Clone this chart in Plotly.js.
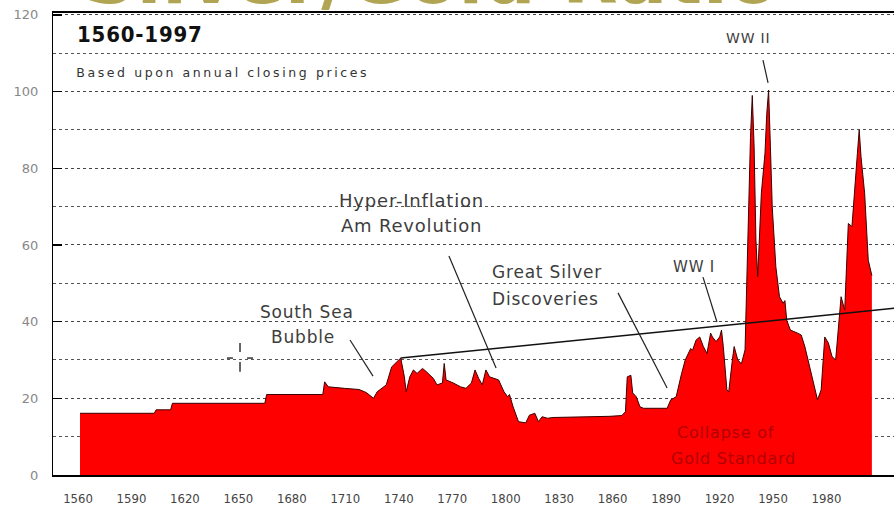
<!DOCTYPE html>
<html>
<head>
<meta charset="utf-8">
<script src="https://cdn.plot.ly/plotly-3.0.1.min.js"></script>
<style>
html,body{margin:0;padding:0;background:#fff;}
#chart{width:894px;height:511px;}
.annotation-text{letter-spacing:0.8px;}
g.annotation[data-index="2"] .annotation-text{letter-spacing:2.6px;}
</style>
</head>
<body>
<div id="chart"></div>
<script>
// Gold/Silver ratio, annual closing prices
const years = [1560,1601,1602,1610,1611,1662,1663,1694,1695,1697,1706,1714,1718,1722,1724,1729,1732,1735,1737,1739,1740,1742,1744,1746,1749,1751,1755,1757,1760,1761,1762,1766,1770,1773,1776,1778,1780,1782,1784,1786,1788,1791,1794,1796,1797,1799,1802,1806,1808,1811,1813,1815,1818,1821,1852,1859,1861,1862,1864,1865,1867,1869,1871,1884,1886,1889,1892,1894,1897,1898,1900,1902,1904,1906,1908,1909,1911,1913,1914,1915,1917,1918,1920,1921,1923,1925,1927,1928,1929,1930,1931,1932,1933,1934,1936,1938,1939,1940,1941,1942,1944,1946,1948,1949,1950,1952,1956,1958,1960,1963,1965,1967,1969,1971,1973,1975,1977,1978,1980,1982,1984,1986,1988,1989,1990,1991,1993,1995,1997];
const ratio = [16.1,16.1,17.0,17.0,18.7,18.7,21.0,21.0,24.3,23.0,22.6,22.3,21.5,20.0,21.7,23.5,28.2,29.6,30.5,25.6,21.7,25.6,27.4,26.5,27.8,27.0,25.2,23.5,24.0,29.1,24.8,24.0,23.0,22.6,24.0,27.4,25.2,23.5,27.4,25.6,25.2,24.8,21.7,20.4,21.0,17.8,13.9,13.6,15.6,16.1,13.9,15.2,14.8,15.0,15.3,15.5,16.5,25.6,26.0,21.4,20.4,17.8,17.4,17.4,19.6,20.4,26.5,30.0,33.0,32.5,35.2,36.0,33.5,31.7,37.0,36.0,34.8,36.0,37.8,33.5,22.2,21.7,30.0,33.5,30.0,29.0,32.6,50.0,72.0,88.0,99.0,85.6,61.3,51.7,73.5,83.9,94.3,100.4,85.6,70.0,54.3,46.5,44.8,45.5,40.4,37.8,37.0,36.5,33.5,27.4,23.9,19.6,22.2,36.0,34.4,30.9,30.0,35.2,46.5,43.0,65.6,64.8,76.0,83.9,90.0,83.0,73.5,56.0,52.0];

// trend line
const trendYears = [1737, 2012];
const trendValues = [30.5, 43.6];

// tick labels
const xTickYears = [1560,1590,1620,1650,1680,1710,1740,1770,1800,1830,1860,1890,1920,1950,1980];
const xTickText = xTickYears.map(String);
const yTickVals = [0,20,40,60,80,100,120];

const txtFont = "DejaVu Sans, Verdana, sans-serif";
const txtColor = "#3d3d3d";

const traces = [
  {
    x: years, y: ratio, type: 'scatter', mode: 'lines',
    fill: 'tozeroy', fillcolor: '#ff0000',
    line: {color: '#3a0000', width: 1},
    hoverinfo: 'skip', xaxis: 'x', yaxis: 'y'
  },
  {
    x: trendYears, y: trendValues, type: 'scatter', mode: 'lines',
    line: {color: '#111', width: 1.5},
    hoverinfo: 'skip', xaxis: 'x', yaxis: 'y'
  },
  {
    x: xTickYears, y: xTickYears.map(() => 0), type: 'scatter', mode: 'lines',
    line: {width: 0}, opacity: 0, hoverinfo: 'skip', xaxis: 'x2', yaxis: 'y2'
  }
];

function ann(text, x, y, size, opts) {
  return Object.assign({
    text: text, x: x, y: y, xref: 'x', yref: 'y', showarrow: false,
    font: {family: txtFont, size: size, color: txtColor},
    xanchor: 'center', yanchor: 'middle'
  }, opts || {});
}

const annotations = [
  {text: 'Silver/Gold Ratio', xref: 'paper', yref: 'paper', x: 0.45, y: 1, yanchor: 'bottom', xanchor: 'center',
   yshift: -9, showarrow: false, font: {family: txtFont, size: 72, color: '#b1a452', weight: 'bold'}},
  ann('1560-1997', 1557.2, 114.8, 22, {xanchor: 'left', font: {family: "DejaVu Sans Condensed, DejaVu Sans, sans-serif", size: 22, color: '#111', weight: 'bold'}}),
  ann('Based upon annual closing prices', 1638.6, 104.9, 12.5, {font: {family: txtFont, size: 12.5, color: '#333'}}),
  ann('WW II', 1928.7, 114.0, 14),
  ann('Hyper-Inflation', 1743.2, 71.5, 18),
  ann('Am Revolution', 1743.2, 65.2, 18),
  ann('Great Silver', 1786.3, 52.9, 17, {xanchor: 'left'}),
  ann('Discoveries', 1786.3, 45.9, 17, {xanchor: 'left'}),
  ann('WW I', 1899.0, 54.3, 15),
  ann('South Sea', 1685.3, 42.5, 17),
  ann('Bubble', 1682.8, 36.0, 17),
  ann('Collapse of', 1916.0, 11.2, 16, {font: {family: txtFont, size: 16, color: '#b00000'}}),
  ann('Gold Standard', 1920.4, 4.4, 16, {font: {family: txtFont, size: 16, color: '#b00000'}})
];

function seg(x0, y0, x1, y1, w, c) {
  return {type: 'line', xref: 'x', yref: 'y', x0: x0, y0: y0, x1: x1, y1: y1,
          line: {color: c || '#222', width: w || 1.2}};
}

const shapes = [
  seg(1709, 35.2, 1721.7, 25.8),
  seg(1763.6, 57.1, 1789.6, 27.9),
  seg(1856.9, 47.5, 1884, 22.7),
  seg(1903.8, 51.6, 1911.5, 39.9),
  seg(1936.9, 108.2, 1939.7, 102.3),
  // crosshair
  seg(1641.1, 30.5, 1644.4, 30.5, 1.5, '#333'),
  seg(1652.2, 30.5, 1655.5, 30.5, 1.5, '#333'),
  seg(1648.3, 34.4, 1648.3, 32.1, 1.5, '#333'),
  seg(1648.3, 29.5, 1648.3, 26.9, 1.5, '#333')
];

const yRange = [0, 120.5];

const layout = {
  width: 894, height: 511,
  margin: {l: 53, r: 0, t: 13, b: 36},
  paper_bgcolor: '#fff', plot_bgcolor: '#fff',
  showlegend: false,
  xaxis: {
    range: [1545.1, 2009.2], showticklabels: false, ticks: '',
    showgrid: false, zeroline: false,
    showline: true, linecolor: '#000', linewidth: 2, mirror: true
  },
  xaxis2: {
    overlaying: 'x', anchor: 'y', side: 'bottom',
    range: [1545.97, 2017.9], tickmode: 'array', tickvals: xTickYears, ticktext: xTickText,
    showgrid: false, zeroline: false, showline: false, ticks: '',
    ticklabelstandoff: 14,
    tickfont: {family: "DejaVu Sans Condensed, DejaVu Sans, sans-serif", size: 13, color: '#444'}
  },
  yaxis: {
    range: yRange, tickmode: 'array', tickvals: yTickVals, showticklabels: false,
    ticks: 'inside', ticklen: 9, tickcolor: '#000', tickwidth: 1.5,
    showgrid: true, gridcolor: '#444', griddash: 'dot', gridwidth: 1,
    zeroline: false, showline: true, linecolor: '#000', linewidth: 1.5,
    minor: {dtick: 10, tick0: 0, showgrid: true, gridcolor: '#555', griddash: 'dot', gridwidth: 1, ticks: ''}
  },
  yaxis2: {
    overlaying: 'y', anchor: 'x', side: 'left',
    range: yRange, tickmode: 'array', tickvals: yTickVals,
    ticks: 'outside', ticklen: 11, tickcolor: 'rgba(0,0,0,0)',
    showgrid: false, zeroline: false, showline: false,
    tickfont: {family: txtFont, size: 13, color: '#888'}
  },
  annotations: annotations,
  shapes: shapes
};

Plotly.newPlot('chart', traces, layout, {displayModeBar: false, staticPlot: true});
</script>
</body>
</html>
